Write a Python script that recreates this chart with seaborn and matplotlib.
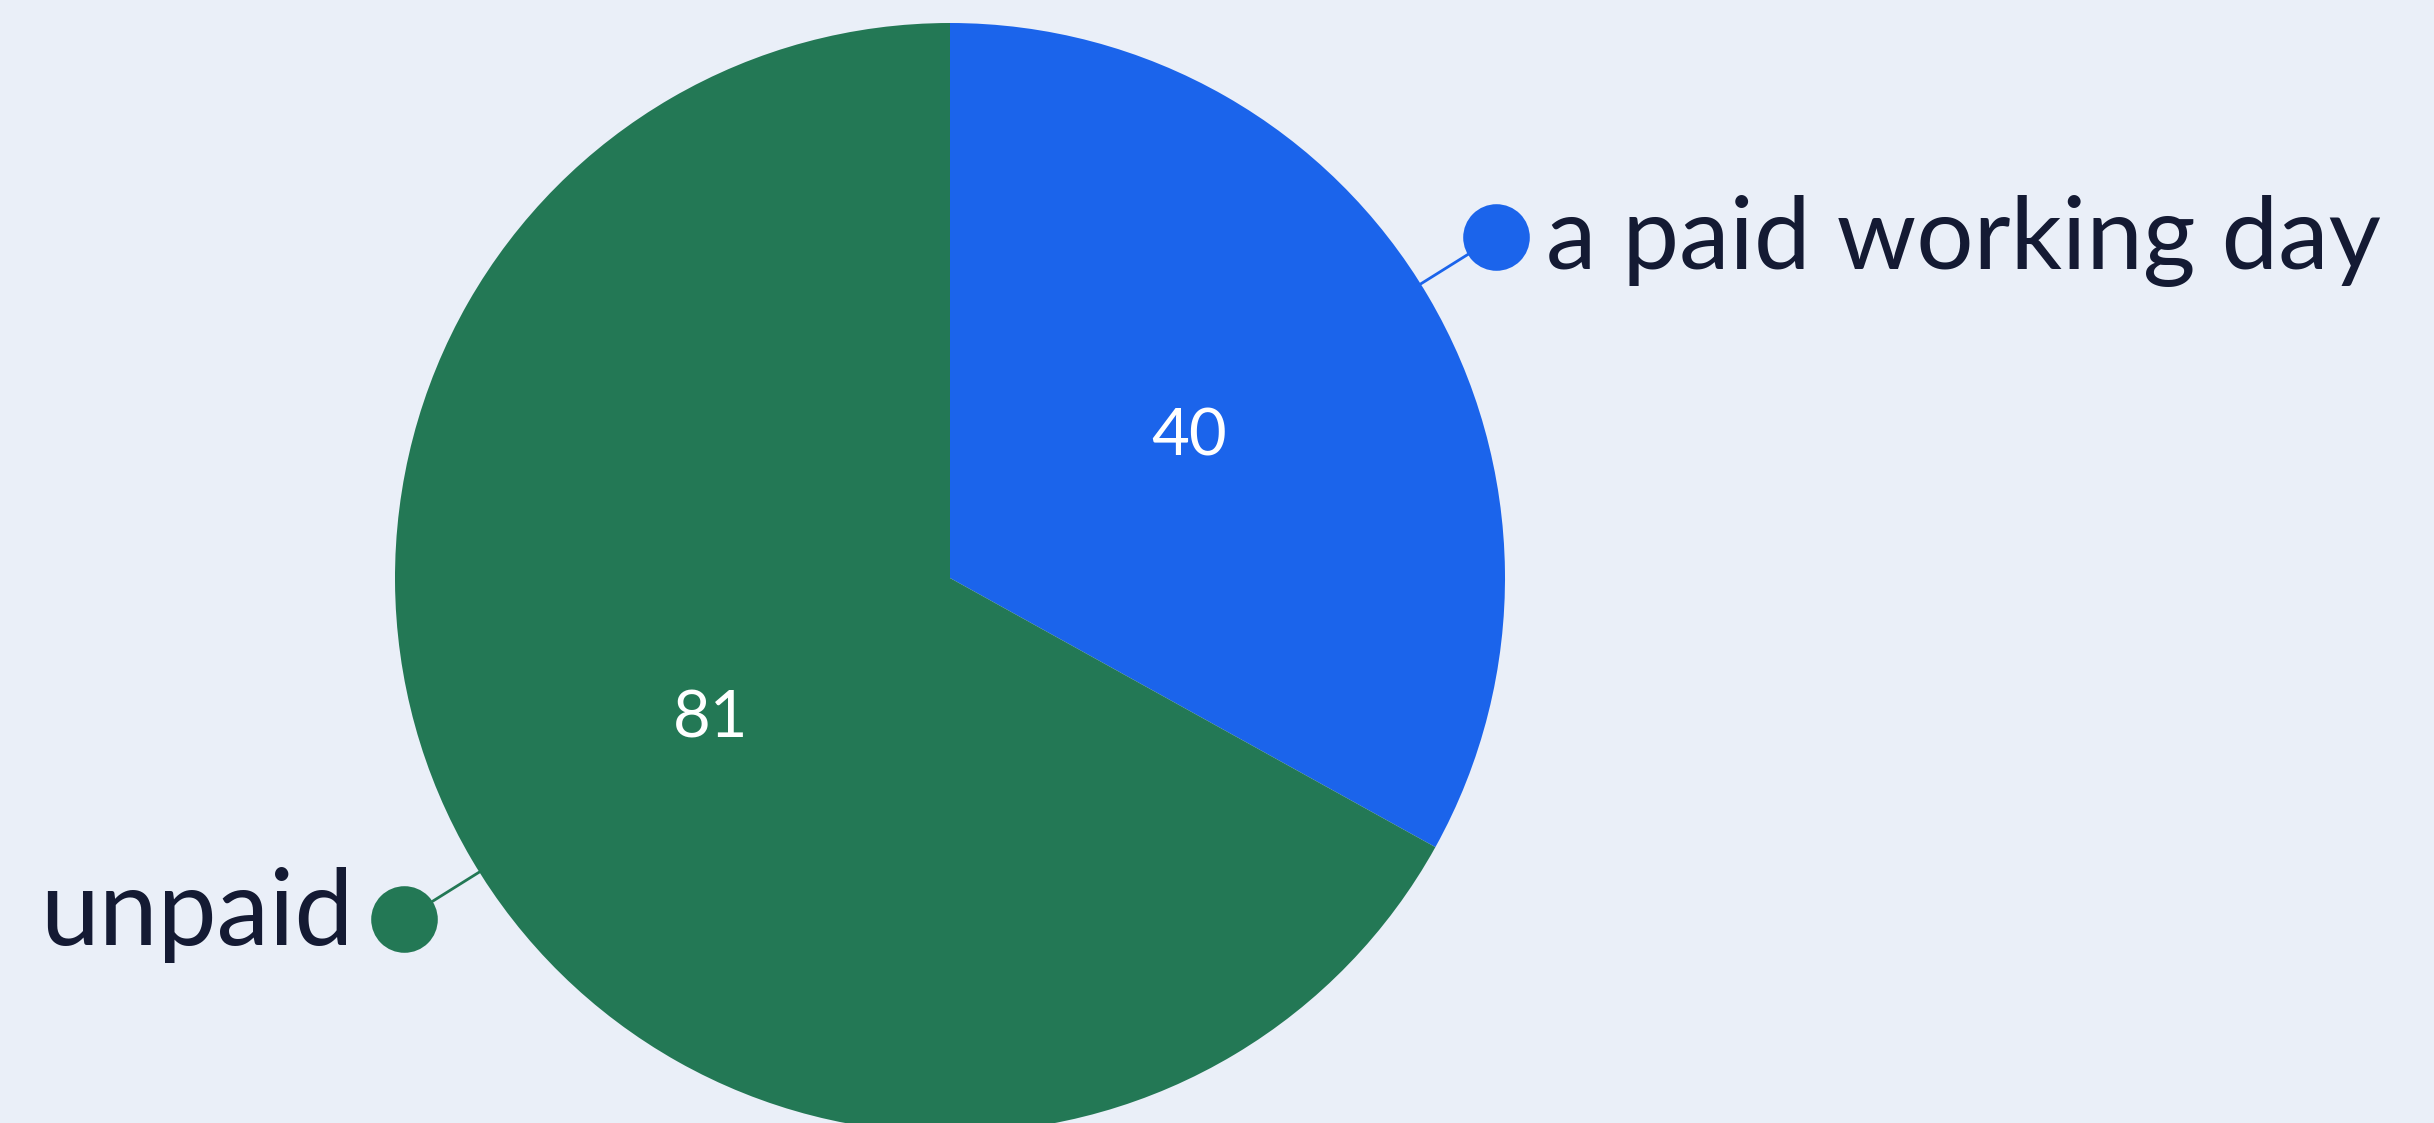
import numpy as np
import matplotlib
matplotlib.use("Agg")
import matplotlib.pyplot as plt
import seaborn as sns

# data
labels = ["a paid working day", "unpaid"]
values = [40, 81]
colors = ["#1b64eb", "#237855"]

BG = "#eaeff8"
TEXT = "#141a33"

sns.set_theme(style="white")
plt.rcParams['font.family'] = ['Lato', 'DejaVu Sans']

W, H = 2434, 1123
fig = plt.figure(figsize=(W / 100, H / 100), dpi=100, facecolor=BG)
ax = fig.add_axes([0, 0, 1, 1])
ax.set_facecolor(BG)

# pie geometry in pixel units
cx, cy, r = 950, H - 578, 555

wedges, texts = ax.pie(values, colors=colors, startangle=90, counterclock=False,
                       center=(cx, cy), radius=r, labels=[str(v) for v in values],
                       labeldistance=0.5, frame=True,
                       wedgeprops=dict(linewidth=0),
                       textprops=dict(color="white", fontsize=47, ha="center", va="center"))

# callout labels with dot + leader line
for w, lab, col in zip(wedges, labels, colors):
    mid = np.deg2rad((w.theta1 + w.theta2) / 2 + 1.5)
    ux, uy = np.cos(mid), np.sin(mid)
    x0, y0 = cx + r * ux, cy + r * uy
    x1, y1 = cx + 1.16 * r * ux, cy + 1.16 * r * uy
    ax.plot([x0, x1], [y0, y1], color=col, lw=2, solid_capstyle="round")
    ax.scatter([x1], [y1], s=2300, color=col, zorder=5, linewidths=0)
    if ux >= 0:
        ax.text(x1 + 50, y1 - 4, lab, ha="left", va="center", fontsize=73, color=TEXT)
    else:
        ax.text(x1 - 50, y1 + 4, lab, ha="right", va="center", fontsize=76, color=TEXT)

ax.set_xlim(0, W)
ax.set_ylim(0, H)
ax.set_aspect("equal")
ax.axis("off")

fig.savefig("out.png", dpi=100, facecolor=BG)
